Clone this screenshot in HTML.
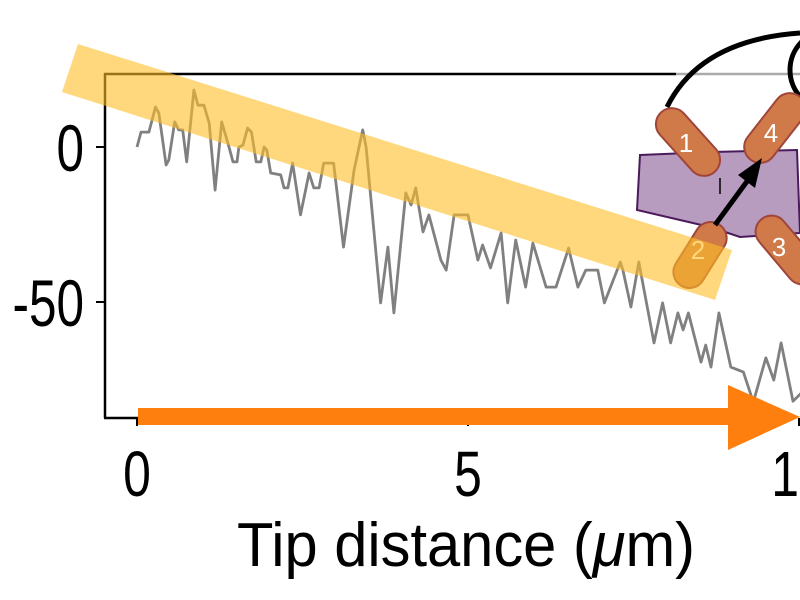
<!DOCTYPE html>
<html><head><meta charset="utf-8"><style>
html,body{margin:0;padding:0;background:#fff;width:800px;height:600px;overflow:hidden}
svg{display:block}
text{font-family:"Liberation Sans",sans-serif;fill:#000}
</style></head><body>
<svg id="chart" width="800" height="600" viewBox="0 0 800 600" xmlns="http://www.w3.org/2000/svg">
<g id="trace-layer"></g>
<line x1="104" y1="74" x2="676" y2="74" stroke="#000" stroke-width="2.5"/>
<line x1="676" y1="74" x2="800" y2="74" stroke="#aaa" stroke-width="2.5"/>
<line x1="105" y1="73" x2="105" y2="418" stroke="#000" stroke-width="2.5"/>
<line x1="104" y1="418" x2="140" y2="418" stroke="#000" stroke-width="2.5"/>
<g id="ticks"></g>
<g>
<path d="M667,107 Q700,40 800,33" fill="none" stroke="#000" stroke-width="5"/>
<circle cx="830" cy="70" r="40" fill="none" stroke="#000" stroke-width="5"/>
<polygon points="640,155 712,152 797,150 800,233 740,237 710,227 637,210" fill="#b89cc0" stroke="#4a1a5a" stroke-width="2"/>
<g transform="translate(688,142) rotate(48)"><rect x="-40" y="-16" width="80" height="32" rx="16" fill="#d07a4a" stroke="#a0453a" stroke-width="2"/></g>
<text x="686" y="152" font-size="26" style="fill:#fff" text-anchor="middle">1</text>
<g transform="translate(775,128) rotate(-52)"><rect x="-40" y="-16" width="80" height="32" rx="16" fill="#d07a4a" stroke="#a0453a" stroke-width="2"/></g>
<text x="771" y="142" font-size="26" style="fill:#fff" text-anchor="middle">4</text>
<g transform="translate(787,250) rotate(50)"><rect x="-40" y="-16" width="80" height="32" rx="16" fill="#d07a4a" stroke="#a0453a" stroke-width="2"/></g>
<text x="779" y="256" font-size="26" style="fill:#fff" text-anchor="middle">3</text>
<g transform="translate(700,255) rotate(-58)"><rect x="-36" y="-16" width="72" height="32" rx="16" fill="#d07a4a" stroke="#a0453a" stroke-width="2"/></g>
<text x="698" y="259" font-size="26" style="fill:#fff" text-anchor="middle">2</text>
<line x1="715" y1="225" x2="748" y2="180" stroke="#000" stroke-width="5"/>
<polygon points="762,158 738,175 755,188" fill="#000"/>
<line x1="720" y1="178" x2="720" y2="194" stroke="#000" stroke-width="1.5"/>
</g>
<polygon points="78,44 732,250 715,300 62,92" fill="rgb(255,190,40)" fill-opacity="0.6"/>
<g>
<rect x="138" y="408" width="595" height="17" fill="#ff7f0e"/>
<polygon points="728,385 800,417 728,450" fill="#ff7f0e"/>
</g>
<text x="237" y="566" font-size="62" textLength="458" lengthAdjust="spacingAndGlyphs">Tip distance (<tspan font-style="italic">μ</tspan>m)</text>
</svg>
<script>
const xTicks=[0,5,10];
const xTickLabels=["0","5","10"];
const yTicks=[0,-50];
const yTickLabels=["0","-50"];
const tipDistance=[0,0.06,0.18,0.28,0.33,0.44,0.48,0.57,0.63,0.69,0.75,0.86,0.92,1.01,1.09,1.18,1.28,1.39,1.45,1.51,1.54,1.6,1.67,1.73,1.8,1.87,1.92,1.96,2.02,2.17,2.22,2.28,2.35,2.47,2.6,2.67,2.75,2.82,2.97,3.12,3.28,3.41,3.46,3.68,3.79,3.88,4.06,4.14,4.21,4.32,4.41,4.59,4.67,4.79,5.0,5.15,5.22,5.34,5.5,5.6,5.72,5.87,5.98,6.18,6.33,6.52,6.66,6.78,6.96,7.06,7.3,7.34,7.46,7.58,7.81,7.94,8.06,8.17,8.25,8.33,8.52,8.59,8.67,8.79,8.97,9.16,9.31,9.5,9.62,9.73,9.91,10.1];
const force=[0,4.8,4.8,12.9,11,-5.8,-4.2,8.1,5.5,5.5,-4.8,18.4,13.5,13.5,7.7,-13.9,8.1,0,-4.8,-4.8,0,0.6,6.1,4.8,-4.8,-4.8,0,-1,-8.4,-9,-13.2,-13.2,-5.2,-21.9,-8.4,-13.2,-13.2,-5.2,-5.2,-32.3,-7.4,5.5,0,-50.3,-32.3,-53.5,-14.8,-18.7,-13.2,-27.4,-21.9,-36.5,-39.7,-21.9,-21.9,-36.5,-31.6,-39,-27.7,-50.3,-30,-45.2,-31,-45.2,-45.2,-32.6,-45.2,-39.7,-39.7,-50.3,-37.1,-39.7,-51.6,-37.1,-63.2,-50.3,-63.2,-53.5,-59,-53.5,-69.4,-63.9,-71,-53.5,-71,-72.6,-82.3,-68,-75.2,-63.2,-82,-78];
const X=v=>137+v*66.2;
const Y=v=>147-v*3.1;
const NS="http://www.w3.org/2000/svg";
const tl=document.getElementById('trace-layer');
const p=document.createElementNS(NS,'path');


p.setAttribute('d',tipDistance.map((x,i)=>(i?'L':'M')+X(x).toFixed(1)+','+Y(force[i]).toFixed(1)).join(' '));
p.setAttribute('fill','none');p.setAttribute('stroke','#808080');p.setAttribute('stroke-width','2.8');p.setAttribute('stroke-linejoin','round');
tl.appendChild(p);
const tk=document.getElementById('ticks');
xTicks.forEach((v,i)=>{
 const l=document.createElementNS(NS,'line');
 
 
 l.setAttribute('x1',X(v));l.setAttribute('x2',X(v));l.setAttribute('y1',418);l.setAttribute('y2',426);l.setAttribute('stroke','#000');l.setAttribute('stroke-width','2');
 tk.appendChild(l);
 const t=document.createElementNS(NS,'text');
 
 
 t.setAttribute('x',X(v));t.setAttribute('y',496);t.setAttribute('font-size','64');t.setAttribute('text-anchor','middle');
 t.setAttribute('transform','translate('+X(v)+',0) scale(0.78,1) translate('+(-X(v))+',0)');
 t.textContent=xTickLabels[i];
 tk.appendChild(t);
});
yTicks.forEach((v,i)=>{
 const l=document.createElementNS(NS,'line');
 
 
 l.setAttribute('x1',96);l.setAttribute('x2',105);l.setAttribute('y1',Y(v));l.setAttribute('y2',Y(v));l.setAttribute('stroke','#000');l.setAttribute('stroke-width','2');
 tk.appendChild(l);
 const t=document.createElementNS(NS,'text');
 
 
 t.setAttribute('x',84);t.setAttribute('y',Y(v)+24);t.setAttribute('font-size','66');t.setAttribute('text-anchor','end');
 t.setAttribute('transform','translate(84,0) scale(0.75,1) translate(-84,0)');
 t.textContent=yTickLabels[i];
 tk.appendChild(t);
});
</script>
</body></html>
